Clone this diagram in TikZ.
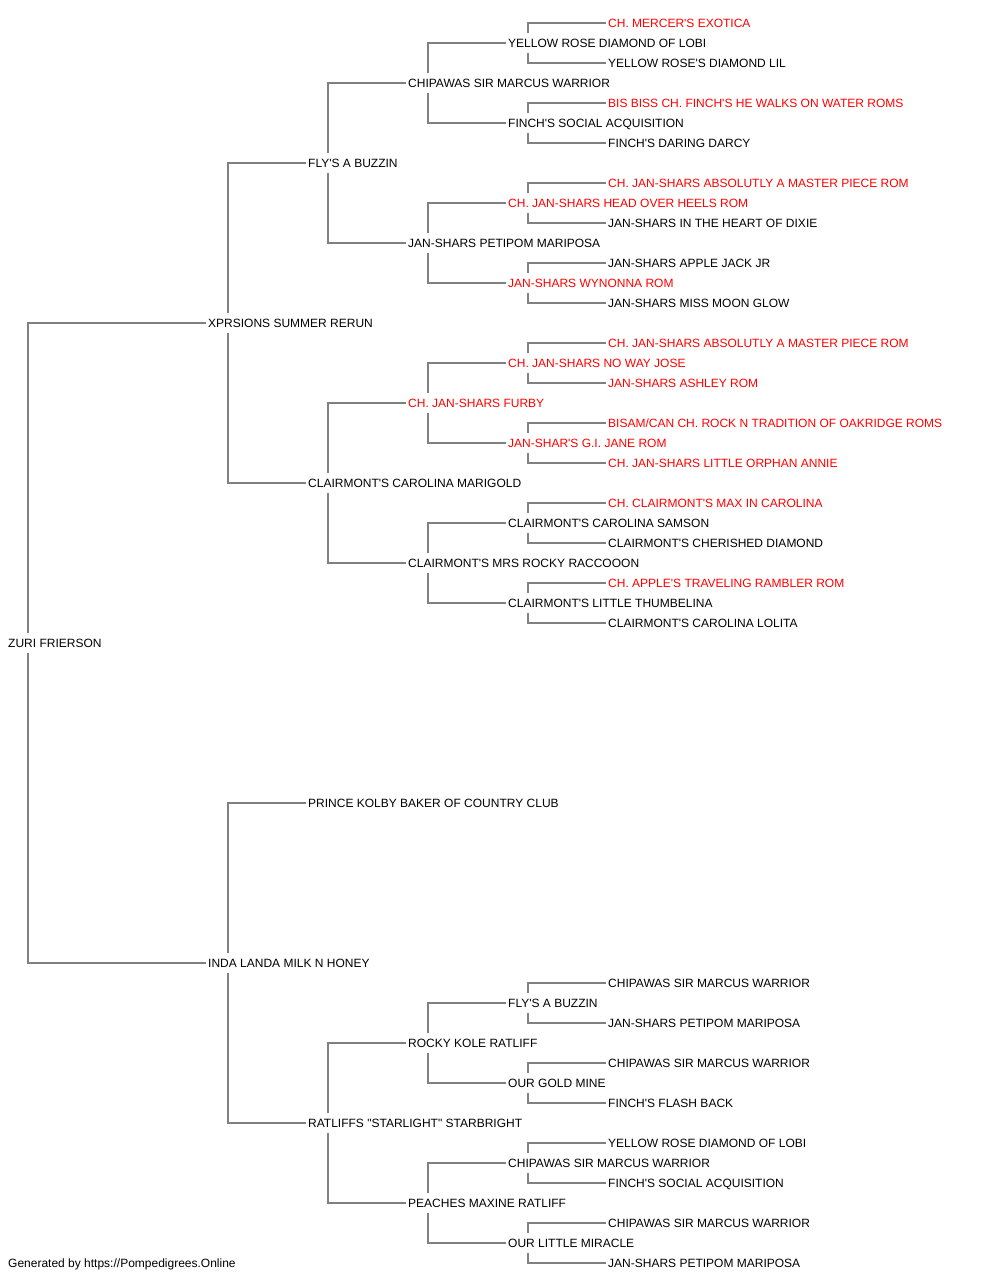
\documentclass[tikz,border=0pt]{standalone}
\usepackage{fontspec}
\setmainfont{Liberation Sans}[Ligatures=TeXOff]
\definecolor{linegray}{RGB}{128,128,128}
\definecolor{chred}{RGB}{255,0,0}
\newcommand\kids[3]{%
  \draw[conn] ([xshift=20pt]#1.north west) |- ([xshift=-2pt]#2.west);
  \draw[conn] ([xshift=20pt]#1.south west) |- ([xshift=-2pt]#3.west);}
\begin{document}
\begin{tikzpicture}[x=1pt,y=-1pt,
  pname/.style={anchor=west,inner sep=0pt,text height=8.6pt,text depth=0pt,
    minimum height=20pt,font=\fontsize{12}{14}\selectfont,text=black},
  pred/.style={pname,text=chred},
  conn/.style={draw=linegray,line width=1.7pt}]
\useasboundingbox (0,0) rectangle (1000,1280);
% level 0
\node[pname] (r) at (8,643) {ZURI FRIERSON};
% level 1
\node[pname] (s) at (208,323) {XPRSIONS SUMMER RERUN};
\node[pname] (d) at (208,963) {INDA LANDA MILK N HONEY};
% level 2
\node[pname] (ss) at (308,163) {FLY'S A BUZZIN};
\node[pname] (sd) at (308,483) {CLAIRMONT'S CAROLINA MARIGOLD};
\node[pname] (ds) at (308,803) {PRINCE KOLBY BAKER OF COUNTRY CLUB};
\node[pname] (dd) at (308,1123) {RATLIFFS "STARLIGHT" STARBRIGHT};
% level 3
\node[pname] (sss) at (408,83) {CHIPAWAS SIR MARCUS WARRIOR};
\node[pname] (ssd) at (408,243) {JAN-SHARS PETIPOM MARIPOSA};
\node[pred]  (sds) at (408,403) {CH. JAN-SHARS FURBY};
\node[pname] (sdd) at (408,563) {CLAIRMONT'S MRS ROCKY RACCOOON};
\node[pname] (dds) at (408,1043) {ROCKY KOLE RATLIFF};
\node[pname] (ddd) at (408,1203) {PEACHES MAXINE RATLIFF};
% level 4
\node[pname] (ssss) at (508,43) {YELLOW ROSE DIAMOND OF LOBI};
\node[pname] (sssd) at (508,123) {FINCH'S SOCIAL ACQUISITION};
\node[pred]  (ssds) at (508,203) {CH. JAN-SHARS HEAD OVER HEELS ROM};
\node[pred]  (ssdd) at (508,283) {JAN-SHARS WYNONNA ROM};
\node[pred]  (sdss) at (508,363) {CH. JAN-SHARS NO WAY JOSE};
\node[pred]  (sdsd) at (508,443) {JAN-SHAR'S G.I. JANE ROM};
\node[pname] (sdds) at (508,523) {CLAIRMONT'S CAROLINA SAMSON};
\node[pname] (sddd) at (508,603) {CLAIRMONT'S LITTLE THUMBELINA};
\node[pname] (ddss) at (508,1003) {FLY'S A BUZZIN};
\node[pname] (ddsd) at (508,1083) {OUR GOLD MINE};
\node[pname] (ddds) at (508,1163) {CHIPAWAS SIR MARCUS WARRIOR};
\node[pname] (dddd) at (508,1243) {OUR LITTLE MIRACLE};
% level 5
\node[pred]  (sssss) at (608,23) {CH. MERCER'S EXOTICA};
\node[pname] (ssssd) at (608,63) {YELLOW ROSE'S DIAMOND LIL};
\node[pred]  (sssds) at (608,103) {BIS BISS CH. FINCH'S HE WALKS ON WATER ROMS};
\node[pname] (sssdd) at (608,143) {FINCH'S DARING DARCY};
\node[pred]  (ssdss) at (608,183) {CH. JAN-SHARS ABSOLUTLY A MASTER PIECE ROM};
\node[pname] (ssdsd) at (608,223) {JAN-SHARS IN THE HEART OF DIXIE};
\node[pname] (ssdds) at (608,263) {JAN-SHARS APPLE JACK JR};
\node[pname] (ssddd) at (608,303) {JAN-SHARS MISS MOON GLOW};
\node[pred]  (sdsss) at (608,343) {CH. JAN-SHARS ABSOLUTLY A MASTER PIECE ROM};
\node[pred]  (sdssd) at (608,383) {JAN-SHARS ASHLEY ROM};
\node[pred]  (sdsds) at (608,423) {BISAM/CAN CH. ROCK N TRADITION OF OAKRIDGE ROMS};
\node[pred]  (sdsdd) at (608,463) {CH. JAN-SHARS LITTLE ORPHAN ANNIE};
\node[pred]  (sddss) at (608,503) {CH. CLAIRMONT'S MAX IN CAROLINA};
\node[pname] (sddsd) at (608,543) {CLAIRMONT'S CHERISHED DIAMOND};
\node[pred]  (sddds) at (608,583) {CH. APPLE'S TRAVELING RAMBLER ROM};
\node[pname] (sdddd) at (608,623) {CLAIRMONT'S CAROLINA LOLITA};
\node[pname] (ddsss) at (608,983) {CHIPAWAS SIR MARCUS WARRIOR};
\node[pname] (ddssd) at (608,1023) {JAN-SHARS PETIPOM MARIPOSA};
\node[pname] (ddsds) at (608,1063) {CHIPAWAS SIR MARCUS WARRIOR};
\node[pname] (ddsdd) at (608,1103) {FINCH'S FLASH BACK};
\node[pname] (dddss) at (608,1143) {YELLOW ROSE DIAMOND OF LOBI};
\node[pname] (dddsd) at (608,1183) {FINCH'S SOCIAL ACQUISITION};
\node[pname] (cdds) at (608,1223) {CHIPAWAS SIR MARCUS WARRIOR};
\node[pname] (cddd) at (608,1263) {JAN-SHARS PETIPOM MARIPOSA};
% footer
\node[pname] (foot) at (8,1263) {Generated by https://Pompedigrees.Online};
% connectors
\kids{r}{s}{d}
\kids{s}{ss}{sd}
\kids{d}{ds}{dd}
\kids{ss}{sss}{ssd}
\kids{sd}{sds}{sdd}
\kids{dd}{dds}{ddd}
\kids{sss}{ssss}{sssd}
\kids{ssd}{ssds}{ssdd}
\kids{sds}{sdss}{sdsd}
\kids{sdd}{sdds}{sddd}
\kids{dds}{ddss}{ddsd}
\kids{ddd}{ddds}{dddd}
\kids{ssss}{sssss}{ssssd}
\kids{sssd}{sssds}{sssdd}
\kids{ssds}{ssdss}{ssdsd}
\kids{ssdd}{ssdds}{ssddd}
\kids{sdss}{sdsss}{sdssd}
\kids{sdsd}{sdsds}{sdsdd}
\kids{sdds}{sddss}{sddsd}
\kids{sddd}{sddds}{sdddd}
\kids{ddss}{ddsss}{ddssd}
\kids{ddsd}{ddsds}{ddsdd}
\kids{ddds}{dddss}{dddsd}
\kids{dddd}{cdds}{cddd}
\end{tikzpicture}
\end{document}
